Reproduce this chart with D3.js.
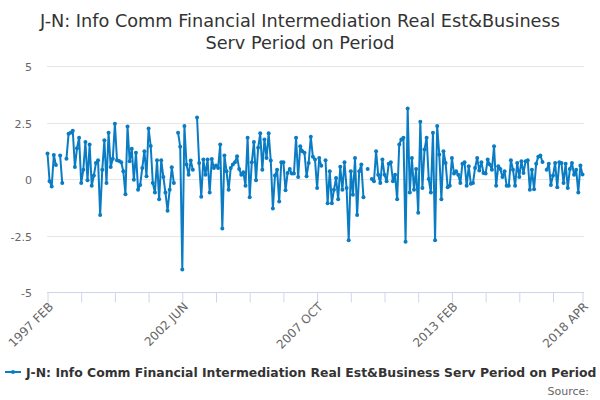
<!DOCTYPE html>
<html>
<head>
  <meta charset="utf-8">
  <title>J-N Period on Period</title>
  <style>
    body { margin: 0; background: #ffffff; }
    svg { font-family: "DejaVu Sans", sans-serif; }
  </style>
</head>
<body>
  <script src="https://d3js.org/d3.v7.min.js"></script>
  <script>
// chart data, monthly from 1997 FEB to 2018 APR (null = no value)
const seriesName = "J-N: Info Comm Financial Intermediation Real Est&Business Serv Period on Period";
const titleLines = ["J-N: Info Comm Financial Intermediation Real Est&Business", "Serv Period on Period"];
const startYear = 1997, startMonth = 1; // FEB
const monthNames = ["JAN","FEB","MAR","APR","MAY","JUN","JUL","AUG","SEP","OCT","NOV","DEC"];

const values = [
  1.13, -0.1, -0.33, 1.06, 0.62, null, 1.04, -0.18, null, 0.9,
  2.0, 2.05, 2.13, 0.53, 1.36, 1.83, -0.18, 0.41, 1.64, -0.06,
  1.53, -0.3, 0.15, 0.71, 0.83, -1.59, 0.41, 1.71, -0.18, 2.05,
  0.53, 0.9, 2.45, 0.83, 0.8, 0.74, 0.34, -0.67, 2.32, 0.79,
  1.34, -0.03, 1.16, -0.48, -0.26, 0.49, 1.23, 0.12, 2.23, 1.46,
  -0.18, -0.6, 0.83, -0.9, 0.83, 0.09, -0.6, -1.4, -0.48, 0.52,
  -0.18, null, 2.05, 1.43, -4.0, 2.35, 0.64, 0.19, 0.82, 0.41,
  null, 2.72, 0.71, -0.78, 0.86, 0.19, 0.86, -0.6, 0.89, 0.49,
  0.6, 0.49, 1.53, -2.19, 1.04, 0.34, -0.48, 0.49, 0.64, 0.74,
  1.01, 0.44, 0.19, 0.3, -0.3, 1.83, -0.81, 0.74, 1.64, -0.06,
  1.38, 2.02, 0.41, 1.75, 0.93, 2.02, 0.82, -1.3, 0.15, 0.41,
  -1.0, 0.74, 0.74, -0.5, 0.27, 0.44, 0.24, 0.24, 1.83, 0.09,
  1.45, 1.23, 1.16, 0.12, 0.71, 1.87, 0.98, 0.86, -0.4, 0.93,
  0.59, null, 0.83, -1.07, 0.34, -1.07, -0.48, 0.04, -0.9, 0.54,
  -0.48, 0.74, -0.4, -2.71, 0.34, -0.7, 0.93, -1.59, 0.34, 0.64,
  -0.81, null, 0.44, null, 0, -0.1, 1.23, 0.19, -0.18, 0.86,
  0.19, -0.1, 0.68, 0.74, -0.1, 0.19, -0.9, 1.53, 1.75, 1.83,
  -2.78, 3.12, -0.6, 0.93, -0.48, 0.44, -1.49, 2.53, -0.4, 1.31,
  1.83, 0, -0.6, 2.05, -2.71, 2.35, 1.08, -0.9, 1.23, 0.71,
  -0.36, -0.3, 0.93, 0.24, 0.34, 0.19, -0.18, 0.68, 0.74, -0.3,
  0.56, -0.21, -0.18, 0.49, 0.93, 0.38, 0.74, 0.27, 0.24, 0.86,
  0.64, 0.41, 1.45, -0.3, 0.56, 0.44, 0.09, 0.34, -0.3, -0.3,
  0.83, 0.41, -0.3, 0.71, 0.09, 0.79, 0.27, 0.79, 0.83, -0.48,
  0.41, -0.45, 0.68, 0.98, 1.04, 0.75, null, 0.41, 0.68, -0.26,
  0.15, 0.71, -0.36, 0.74, 0.71, -0.18, 0.68, -0.4, 0.44, 0.71,
  0.19, 0.41, -0.6, 0.6, 0.2
];

// month categories for each value
const categories = values.map((v, i) => {
  const m = startMonth + i;
  return (startYear + Math.floor(m / 12)) + " " + monthNames[m % 12];
});

const yTicks = [-5, -2.5, 0, 2.5, 5];
const tickEvery = 16;
const labelEvery = 64;

const width = 600, height = 400;
const plot = { left: 47, right: 584, top: 66, bottom: 292 };
const lineColor = "#0a7cc4";

const svg = d3.select("body").append("svg")
  .attr("width", width)
  .attr("height", height);

// title
svg.append("text")
  .attr("x", width / 2)
  .attr("y", 0)
  .attr("text-anchor", "middle")
  .attr("fill", "#333333")
  .style("font-size", "17.7px")
  .selectAll("tspan")
  .data(titleLines)
  .join("tspan")
  .attr("x", width / 2)
  .attr("y", (d, i) => 27 + i * 22)
  .text(d => d);

const x = d3.scalePoint()
  .domain(categories)
  .range([47.5, 582.5]);

const y = d3.scaleLinear()
  .domain([-5, 5])
  .range([plot.bottom, plot.top]);

// gridlines
svg.append("g")
  .selectAll("line")
  .data(yTicks)
  .join("line")
  .attr("x1", plot.left)
  .attr("x2", plot.right)
  .attr("y1", d => Math.round(y(d)) + 0.5)
  .attr("y2", d => Math.round(y(d)) + 0.5)
  .attr("stroke", d => d === -5 ? "none" : "#e6e6e6")
  .attr("stroke-width", 1);

// y axis labels
svg.append("g")
  .selectAll("text")
  .data(yTicks)
  .join("text")
  .attr("x", 32)
  .attr("y", d => y(d) + 5)
  .attr("text-anchor", "end")
  .attr("fill", "#666666")
  .style("font-size", "11px")
  .text(d => String(d));

// x axis
const tickCats = categories.filter((c, i) => i % tickEvery === 0 || i === categories.length - 1);
const labelCats = categories.filter((c, i) => i % labelEvery === 0 || i === categories.length - 1);

const xAxis = d3.axisBottom(x)
  .tickValues(tickCats)
  .tickSize(10)
  .tickFormat(d => labelCats.includes(d) ? d : "");

const gx = svg.append("g")
  .attr("transform", `translate(0,${plot.bottom + 0.5})`)
  .call(xAxis);

gx.select(".domain")
  .attr("d", `M${plot.left},0H${plot.right}`)
  .attr("stroke", "#ccd6eb");
gx.selectAll(".tick line").attr("stroke", "#ccd6eb");
gx.selectAll(".tick text")
  .attr("fill", "#666666")
  .style("font-size", "12px")
  .style("font-family", "DejaVu Sans, sans-serif")
  .attr("text-anchor", "end")
  .attr("transform", "translate(3,12) rotate(-45)")
  .attr("dy", "0.35em")
  .attr("y", 0)
  .attr("x", 0);

// series line
const points = values.map((v, i) => ({ cat: categories[i], v }));
const line = d3.line()
  .defined(d => d.v !== null)
  .x(d => x(d.cat))
  .y(d => y(d.v));

svg.append("path")
  .datum(points)
  .attr("d", line)
  .attr("fill", "none")
  .attr("stroke", lineColor)
  .attr("stroke-width", 2)
  .attr("stroke-linejoin", "round");

svg.append("g")
  .selectAll("circle")
  .data(points.filter(d => d.v !== null))
  .join("circle")
  .attr("cx", d => x(d.cat))
  .attr("cy", d => y(d.v))
  .attr("r", 2)
  .attr("fill", lineColor);

// legend
const legend = svg.append("g").attr("transform", "translate(0,372)");
legend.append("line")
  .attr("x1", 5).attr("x2", 21)
  .attr("y1", 0).attr("y2", 0)
  .attr("stroke", lineColor)
  .attr("stroke-width", 2);
legend.append("circle")
  .attr("cx", 13).attr("cy", 0).attr("r", 2)
  .attr("fill", lineColor);
legend.append("text")
  .attr("x", 26)
  .attr("y", 5)
  .attr("fill", "#333333")
  .style("font-size", "12.4px")
  .style("font-weight", "bold")
  .text(seriesName);

// source note
svg.append("text")
  .attr("x", 589)
  .attr("y", 395)
  .attr("text-anchor", "end")
  .attr("fill", "#666666")
  .style("font-size", "11px")
  .text("Source:");
  </script>
</body>
</html>
